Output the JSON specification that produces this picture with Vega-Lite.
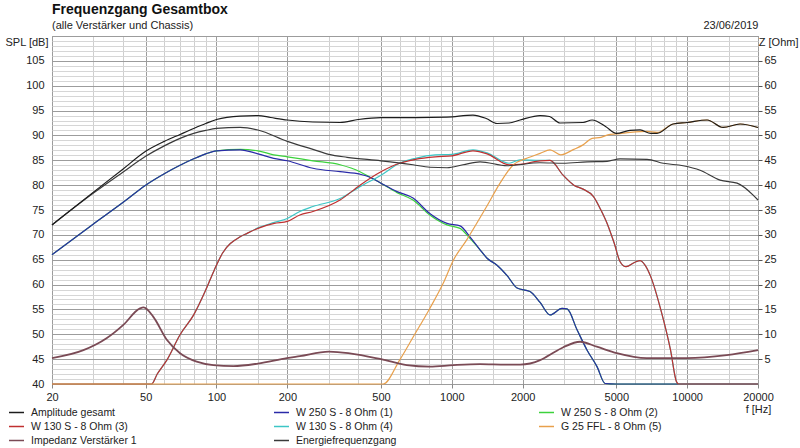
{
  "$schema": "https://vega.github.io/schema/vega-lite/v6.json",
  "width": 706,
  "height": 348,
  "autosize": {"type": "none"},
  "padding": {"left": 52, "top": 36, "right": 42, "bottom": 64},
  "background": "white",
  "title": {
    "text": "Frequenzgang Gesamtbox",
    "subtitle": "(alle Verstärker und Chassis)",
    "anchor": "start",
    "frame": "group",
    "font": "Liberation Sans",
    "fontSize": 14,
    "fontWeight": "bold",
    "color": "#111",
    "subtitleFont": "Liberation Sans",
    "subtitleFontSize": 11,
    "subtitleColor": "#222",
    "subtitlePadding": 3,
    "offset": -12
  },
  "config": {
    "font": "Liberation Sans",
    "view": {"stroke": "#8a8a8a"},
    "axis": {"labelFontSize": 11, "labelColor": "#222", "titleFontSize": 11, "titleFontWeight": "normal", "titleColor": "#222"}
  },
  "datasets": {
    "d": [
      {"s": "W 250 S - 8 Ohm  (2)", "f": 20, "v": 66},
      {"s": "W 250 S - 8 Ohm  (2)", "f": 30, "v": 72.2},
      {"s": "W 250 S - 8 Ohm  (2)", "f": 40, "v": 76.5},
      {"s": "W 250 S - 8 Ohm  (2)", "f": 50, "v": 80},
      {"s": "W 250 S - 8 Ohm  (2)", "f": 60, "v": 82.3},
      {"s": "W 250 S - 8 Ohm  (2)", "f": 70, "v": 84.0},
      {"s": "W 250 S - 8 Ohm  (2)", "f": 80, "v": 85.3},
      {"s": "W 250 S - 8 Ohm  (2)", "f": 90, "v": 86.3},
      {"s": "W 250 S - 8 Ohm  (2)", "f": 100, "v": 86.9},
      {"s": "W 250 S - 8 Ohm  (2)", "f": 126, "v": 87.2},
      {"s": "W 250 S - 8 Ohm  (2)", "f": 150, "v": 86.9},
      {"s": "W 250 S - 8 Ohm  (2)", "f": 175, "v": 86.1},
      {"s": "W 250 S - 8 Ohm  (2)", "f": 200, "v": 85.7},
      {"s": "W 250 S - 8 Ohm  (2)", "f": 257, "v": 84.9},
      {"s": "W 250 S - 8 Ohm  (2)", "f": 335, "v": 84.1},
      {"s": "W 250 S - 8 Ohm  (2)", "f": 407, "v": 82.7},
      {"s": "W 250 S - 8 Ohm  (2)", "f": 449, "v": 81.6},
      {"s": "W 250 S - 8 Ohm  (2)", "f": 500, "v": 80.4},
      {"s": "W 250 S - 8 Ohm  (2)", "f": 585, "v": 78.5},
      {"s": "W 250 S - 8 Ohm  (2)", "f": 684, "v": 77.0},
      {"s": "W 250 S - 8 Ohm  (2)", "f": 806, "v": 74.0},
      {"s": "W 250 S - 8 Ohm  (2)", "f": 954, "v": 72.0},
      {"s": "W 250 S - 8 Ohm  (2)", "f": 1084, "v": 71.3},
      {"s": "W 250 S - 8 Ohm  (2)", "f": 1194, "v": 69.3},
      {"s": "W 250 S - 8 Ohm  (2)", "f": 1318, "v": 67.0},
      {"s": "W 250 S - 8 Ohm  (2)", "f": 1412, "v": 65.3},
      {"s": "W 250 S - 8 Ohm  (2)", "f": 1556, "v": 63.9},
      {"s": "W 250 S - 8 Ohm  (2)", "f": 1718, "v": 61.8},
      {"s": "W 250 S - 8 Ohm  (2)", "f": 1893, "v": 59.3},
      {"s": "W 250 S - 8 Ohm  (2)", "f": 2149, "v": 58.6},
      {"s": "W 250 S - 8 Ohm  (2)", "f": 2372, "v": 56.4},
      {"s": "W 250 S - 8 Ohm  (2)", "f": 2614, "v": 53.9},
      {"s": "W 250 S - 8 Ohm  (2)", "f": 2940, "v": 55.2},
      {"s": "W 250 S - 8 Ohm  (2)", "f": 3088, "v": 55.1},
      {"s": "W 250 S - 8 Ohm  (2)", "f": 3405, "v": 50.9},
      {"s": "W 250 S - 8 Ohm  (2)", "f": 3757, "v": 46.8},
      {"s": "W 250 S - 8 Ohm  (2)", "f": 4140, "v": 43.5},
      {"s": "W 250 S - 8 Ohm  (2)", "f": 4480, "v": 40.1},
      {"s": "W 250 S - 8 Ohm  (2)", "f": 5000, "v": 40},
      {"s": "W 250 S - 8 Ohm  (2)", "f": 20000, "v": 40},

      {"s": "W 250 S - 8 Ohm  (1)", "f": 20, "v": 66},
      {"s": "W 250 S - 8 Ohm  (1)", "f": 30, "v": 72.2},
      {"s": "W 250 S - 8 Ohm  (1)", "f": 40, "v": 76.5},
      {"s": "W 250 S - 8 Ohm  (1)", "f": 50, "v": 80},
      {"s": "W 250 S - 8 Ohm  (1)", "f": 60, "v": 82.3},
      {"s": "W 250 S - 8 Ohm  (1)", "f": 70, "v": 84.0},
      {"s": "W 250 S - 8 Ohm  (1)", "f": 80, "v": 85.3},
      {"s": "W 250 S - 8 Ohm  (1)", "f": 90, "v": 86.3},
      {"s": "W 250 S - 8 Ohm  (1)", "f": 100, "v": 86.9},
      {"s": "W 250 S - 8 Ohm  (1)", "f": 126, "v": 87.1},
      {"s": "W 250 S - 8 Ohm  (1)", "f": 150, "v": 86.3},
      {"s": "W 250 S - 8 Ohm  (1)", "f": 175, "v": 85.4},
      {"s": "W 250 S - 8 Ohm  (1)", "f": 200, "v": 84.9},
      {"s": "W 250 S - 8 Ohm  (1)", "f": 257, "v": 83.4},
      {"s": "W 250 S - 8 Ohm  (1)", "f": 335, "v": 82.7},
      {"s": "W 250 S - 8 Ohm  (1)", "f": 407, "v": 82.2},
      {"s": "W 250 S - 8 Ohm  (1)", "f": 449, "v": 81.6},
      {"s": "W 250 S - 8 Ohm  (1)", "f": 500, "v": 80.4},
      {"s": "W 250 S - 8 Ohm  (1)", "f": 585, "v": 78.7},
      {"s": "W 250 S - 8 Ohm  (1)", "f": 684, "v": 77.4},
      {"s": "W 250 S - 8 Ohm  (1)", "f": 806, "v": 74.3},
      {"s": "W 250 S - 8 Ohm  (1)", "f": 954, "v": 72.3},
      {"s": "W 250 S - 8 Ohm  (1)", "f": 1084, "v": 71.8},
      {"s": "W 250 S - 8 Ohm  (1)", "f": 1194, "v": 69.6},
      {"s": "W 250 S - 8 Ohm  (1)", "f": 1318, "v": 67.0},
      {"s": "W 250 S - 8 Ohm  (1)", "f": 1412, "v": 65.3},
      {"s": "W 250 S - 8 Ohm  (1)", "f": 1556, "v": 63.9},
      {"s": "W 250 S - 8 Ohm  (1)", "f": 1718, "v": 61.8},
      {"s": "W 250 S - 8 Ohm  (1)", "f": 1893, "v": 59.3},
      {"s": "W 250 S - 8 Ohm  (1)", "f": 2149, "v": 58.6},
      {"s": "W 250 S - 8 Ohm  (1)", "f": 2372, "v": 56.4},
      {"s": "W 250 S - 8 Ohm  (1)", "f": 2614, "v": 53.9},
      {"s": "W 250 S - 8 Ohm  (1)", "f": 2940, "v": 55.2},
      {"s": "W 250 S - 8 Ohm  (1)", "f": 3088, "v": 55.1},
      {"s": "W 250 S - 8 Ohm  (1)", "f": 3405, "v": 50.9},
      {"s": "W 250 S - 8 Ohm  (1)", "f": 3757, "v": 46.8},
      {"s": "W 250 S - 8 Ohm  (1)", "f": 4140, "v": 43.5},
      {"s": "W 250 S - 8 Ohm  (1)", "f": 4480, "v": 40.1},
      {"s": "W 250 S - 8 Ohm  (1)", "f": 5000, "v": 40},
      {"s": "W 250 S - 8 Ohm  (1)", "f": 20000, "v": 40},

      {"s": "W 130 S - 8 Ohm (4)", "f": 20, "v": 40},
      {"s": "W 130 S - 8 Ohm (4)", "f": 53, "v": 40},
      {"s": "W 130 S - 8 Ohm (4)", "f": 56, "v": 42},
      {"s": "W 130 S - 8 Ohm (4)", "f": 61.5, "v": 44.8},
      {"s": "W 130 S - 8 Ohm (4)", "f": 70, "v": 49.9},
      {"s": "W 130 S - 8 Ohm (4)", "f": 80, "v": 53.9},
      {"s": "W 130 S - 8 Ohm (4)", "f": 90, "v": 58.9},
      {"s": "W 130 S - 8 Ohm (4)", "f": 98, "v": 63},
      {"s": "W 130 S - 8 Ohm (4)", "f": 106, "v": 66.3},
      {"s": "W 130 S - 8 Ohm (4)", "f": 126, "v": 69.6},
      {"s": "W 130 S - 8 Ohm (4)", "f": 135, "v": 70.3},
      {"s": "W 130 S - 8 Ohm (4)", "f": 150, "v": 71.4},
      {"s": "W 130 S - 8 Ohm (4)", "f": 176, "v": 72.5},
      {"s": "W 130 S - 8 Ohm (4)", "f": 200, "v": 73.3},
      {"s": "W 130 S - 8 Ohm (4)", "f": 226, "v": 74.7},
      {"s": "W 130 S - 8 Ohm (4)", "f": 257, "v": 75.7},
      {"s": "W 130 S - 8 Ohm (4)", "f": 335, "v": 77.3},
      {"s": "W 130 S - 8 Ohm (4)", "f": 407, "v": 79.7},
      {"s": "W 130 S - 8 Ohm (4)", "f": 500, "v": 82.0},
      {"s": "W 130 S - 8 Ohm (4)", "f": 600, "v": 84.4},
      {"s": "W 130 S - 8 Ohm (4)", "f": 700, "v": 85.4},
      {"s": "W 130 S - 8 Ohm (4)", "f": 850, "v": 86.1},
      {"s": "W 130 S - 8 Ohm (4)", "f": 1000, "v": 86.2},
      {"s": "W 130 S - 8 Ohm (4)", "f": 1230, "v": 87.1},
      {"s": "W 130 S - 8 Ohm (4)", "f": 1412, "v": 86.5},
      {"s": "W 130 S - 8 Ohm (4)", "f": 1750, "v": 84.4},
      {"s": "W 130 S - 8 Ohm (4)", "f": 1950, "v": 85.1},
      {"s": "W 130 S - 8 Ohm (4)", "f": 2372, "v": 85.0},
      {"s": "W 130 S - 8 Ohm (4)", "f": 2614, "v": 85.0},
      {"s": "W 130 S - 8 Ohm (4)", "f": 2970, "v": 82.0},
      {"s": "W 130 S - 8 Ohm (4)", "f": 3300, "v": 80.0},
      {"s": "W 130 S - 8 Ohm (4)", "f": 3612, "v": 79.2},
      {"s": "W 130 S - 8 Ohm (4)", "f": 4000, "v": 77.7},
      {"s": "W 130 S - 8 Ohm (4)", "f": 4300, "v": 75.0},
      {"s": "W 130 S - 8 Ohm (4)", "f": 4570, "v": 72.3},
      {"s": "W 130 S - 8 Ohm (4)", "f": 4900, "v": 68.3},
      {"s": "W 130 S - 8 Ohm (4)", "f": 5188, "v": 64.6},
      {"s": "W 130 S - 8 Ohm (4)", "f": 5500, "v": 63.6},
      {"s": "W 130 S - 8 Ohm (4)", "f": 6000, "v": 64.5},
      {"s": "W 130 S - 8 Ohm (4)", "f": 6310, "v": 64.8},
      {"s": "W 130 S - 8 Ohm (4)", "f": 6620, "v": 63.9},
      {"s": "W 130 S - 8 Ohm (4)", "f": 7000, "v": 61.6},
      {"s": "W 130 S - 8 Ohm (4)", "f": 7730, "v": 54.9},
      {"s": "W 130 S - 8 Ohm (4)", "f": 8500, "v": 46.8},
      {"s": "W 130 S - 8 Ohm (4)", "f": 9000, "v": 40.5},
      {"s": "W 130 S - 8 Ohm (4)", "f": 9200, "v": 40},
      {"s": "W 130 S - 8 Ohm (4)", "f": 20000, "v": 40},

      {"s": "W 130 S - 8 Ohm (3)", "f": 20, "v": 40},
      {"s": "W 130 S - 8 Ohm (3)", "f": 53, "v": 40},
      {"s": "W 130 S - 8 Ohm (3)", "f": 56, "v": 42},
      {"s": "W 130 S - 8 Ohm (3)", "f": 61.5, "v": 44.8},
      {"s": "W 130 S - 8 Ohm (3)", "f": 70, "v": 49.9},
      {"s": "W 130 S - 8 Ohm (3)", "f": 80, "v": 53.9},
      {"s": "W 130 S - 8 Ohm (3)", "f": 90, "v": 58.9},
      {"s": "W 130 S - 8 Ohm (3)", "f": 98, "v": 63},
      {"s": "W 130 S - 8 Ohm (3)", "f": 106, "v": 66.3},
      {"s": "W 130 S - 8 Ohm (3)", "f": 126, "v": 69.6},
      {"s": "W 130 S - 8 Ohm (3)", "f": 135, "v": 70.3},
      {"s": "W 130 S - 8 Ohm (3)", "f": 150, "v": 71.3},
      {"s": "W 130 S - 8 Ohm (3)", "f": 176, "v": 72.3},
      {"s": "W 130 S - 8 Ohm (3)", "f": 200, "v": 72.7},
      {"s": "W 130 S - 8 Ohm (3)", "f": 226, "v": 74.0},
      {"s": "W 130 S - 8 Ohm (3)", "f": 257, "v": 74.7},
      {"s": "W 130 S - 8 Ohm (3)", "f": 335, "v": 77.0},
      {"s": "W 130 S - 8 Ohm (3)", "f": 407, "v": 80.0},
      {"s": "W 130 S - 8 Ohm (3)", "f": 500, "v": 82.7},
      {"s": "W 130 S - 8 Ohm (3)", "f": 600, "v": 84.4},
      {"s": "W 130 S - 8 Ohm (3)", "f": 700, "v": 85.2},
      {"s": "W 130 S - 8 Ohm (3)", "f": 850, "v": 85.7},
      {"s": "W 130 S - 8 Ohm (3)", "f": 1000, "v": 85.9},
      {"s": "W 130 S - 8 Ohm (3)", "f": 1230, "v": 86.9},
      {"s": "W 130 S - 8 Ohm (3)", "f": 1412, "v": 86.3},
      {"s": "W 130 S - 8 Ohm (3)", "f": 1750, "v": 84.1},
      {"s": "W 130 S - 8 Ohm (3)", "f": 1950, "v": 84.2},
      {"s": "W 130 S - 8 Ohm (3)", "f": 2372, "v": 84.9},
      {"s": "W 130 S - 8 Ohm (3)", "f": 2614, "v": 85.0},
      {"s": "W 130 S - 8 Ohm (3)", "f": 2970, "v": 82.0},
      {"s": "W 130 S - 8 Ohm (3)", "f": 3300, "v": 80.0},
      {"s": "W 130 S - 8 Ohm (3)", "f": 3612, "v": 79.2},
      {"s": "W 130 S - 8 Ohm (3)", "f": 4000, "v": 77.7},
      {"s": "W 130 S - 8 Ohm (3)", "f": 4300, "v": 75.0},
      {"s": "W 130 S - 8 Ohm (3)", "f": 4570, "v": 72.3},
      {"s": "W 130 S - 8 Ohm (3)", "f": 4900, "v": 68.3},
      {"s": "W 130 S - 8 Ohm (3)", "f": 5188, "v": 64.6},
      {"s": "W 130 S - 8 Ohm (3)", "f": 5500, "v": 63.6},
      {"s": "W 130 S - 8 Ohm (3)", "f": 6000, "v": 64.5},
      {"s": "W 130 S - 8 Ohm (3)", "f": 6310, "v": 64.8},
      {"s": "W 130 S - 8 Ohm (3)", "f": 6620, "v": 63.9},
      {"s": "W 130 S - 8 Ohm (3)", "f": 7000, "v": 61.6},
      {"s": "W 130 S - 8 Ohm (3)", "f": 7730, "v": 54.9},
      {"s": "W 130 S - 8 Ohm (3)", "f": 8500, "v": 46.8},
      {"s": "W 130 S - 8 Ohm (3)", "f": 9000, "v": 40.5},
      {"s": "W 130 S - 8 Ohm (3)", "f": 9200, "v": 40},
      {"s": "W 130 S - 8 Ohm (3)", "f": 20000, "v": 40},

      {"s": "G 25 FFL - 8 Ohm (5)", "f": 20, "v": 40},
      {"s": "G 25 FFL - 8 Ohm (5)", "f": 511, "v": 40},
      {"s": "G 25 FFL - 8 Ohm (5)", "f": 600, "v": 44.8},
      {"s": "G 25 FFL - 8 Ohm (5)", "f": 686, "v": 49.5},
      {"s": "G 25 FFL - 8 Ohm (5)", "f": 806, "v": 55.2},
      {"s": "G 25 FFL - 8 Ohm (5)", "f": 920, "v": 60.3},
      {"s": "G 25 FFL - 8 Ohm (5)", "f": 1015, "v": 64.9},
      {"s": "G 25 FFL - 8 Ohm (5)", "f": 1157, "v": 69.0},
      {"s": "G 25 FFL - 8 Ohm (5)", "f": 1406, "v": 75.7},
      {"s": "G 25 FFL - 8 Ohm (5)", "f": 1603, "v": 80.4},
      {"s": "G 25 FFL - 8 Ohm (5)", "f": 1826, "v": 84.1},
      {"s": "G 25 FFL - 8 Ohm (5)", "f": 2081, "v": 85.4},
      {"s": "G 25 FFL - 8 Ohm (5)", "f": 2372, "v": 86.4},
      {"s": "G 25 FFL - 8 Ohm (5)", "f": 2614, "v": 87.1},
      {"s": "G 25 FFL - 8 Ohm (5)", "f": 2900, "v": 86.1},
      {"s": "G 25 FFL - 8 Ohm (5)", "f": 3300, "v": 87.2},
      {"s": "G 25 FFL - 8 Ohm (5)", "f": 3612, "v": 88.1},
      {"s": "G 25 FFL - 8 Ohm (5)", "f": 3946, "v": 89.4},
      {"s": "G 25 FFL - 8 Ohm (5)", "f": 4300, "v": 89.6},
      {"s": "G 25 FFL - 8 Ohm (5)", "f": 4600, "v": 90.1},
      {"s": "G 25 FFL - 8 Ohm (5)", "f": 5000, "v": 90.3},
      {"s": "G 25 FFL - 8 Ohm (5)", "f": 5716, "v": 90.6},
      {"s": "G 25 FFL - 8 Ohm (5)", "f": 6760, "v": 90.8},
      {"s": "G 25 FFL - 8 Ohm (5)", "f": 7450, "v": 90.6},
      {"s": "G 25 FFL - 8 Ohm (5)", "f": 8710, "v": 92.3},
      {"s": "G 25 FFL - 8 Ohm (5)", "f": 10000, "v": 92.6},
      {"s": "G 25 FFL - 8 Ohm (5)", "f": 12160, "v": 93.1},
      {"s": "G 25 FFL - 8 Ohm (5)", "f": 14220, "v": 91.6},
      {"s": "G 25 FFL - 8 Ohm (5)", "f": 16780, "v": 92.3},
      {"s": "G 25 FFL - 8 Ohm (5)", "f": 20000, "v": 91.6},

      {"s": "Energiefrequenzgang", "f": 20, "v": 72},
      {"s": "Energiefrequenzgang", "f": 30, "v": 78.4},
      {"s": "Energiefrequenzgang", "f": 40, "v": 82.6},
      {"s": "Energiefrequenzgang", "f": 50, "v": 85.8},
      {"s": "Energiefrequenzgang", "f": 60, "v": 87.9},
      {"s": "Energiefrequenzgang", "f": 70, "v": 89.4},
      {"s": "Energiefrequenzgang", "f": 80, "v": 90.4},
      {"s": "Energiefrequenzgang", "f": 90, "v": 91.0},
      {"s": "Energiefrequenzgang", "f": 100, "v": 91.4},
      {"s": "Energiefrequenzgang", "f": 126, "v": 91.6},
      {"s": "Energiefrequenzgang", "f": 150, "v": 91.1},
      {"s": "Energiefrequenzgang", "f": 200, "v": 88.8},
      {"s": "Energiefrequenzgang", "f": 257, "v": 87.2},
      {"s": "Energiefrequenzgang", "f": 300, "v": 86.2},
      {"s": "Energiefrequenzgang", "f": 359, "v": 85.6},
      {"s": "Energiefrequenzgang", "f": 500, "v": 84.9},
      {"s": "Energiefrequenzgang", "f": 684, "v": 84.1},
      {"s": "Energiefrequenzgang", "f": 806, "v": 83.6},
      {"s": "Energiefrequenzgang", "f": 954, "v": 83.5},
      {"s": "Energiefrequenzgang", "f": 1116, "v": 84.1},
      {"s": "Energiefrequenzgang", "f": 1318, "v": 84.7},
      {"s": "Energiefrequenzgang", "f": 1718, "v": 83.9},
      {"s": "Energiefrequenzgang", "f": 2372, "v": 84.5},
      {"s": "Energiefrequenzgang", "f": 2970, "v": 84.4},
      {"s": "Energiefrequenzgang", "f": 3757, "v": 84.7},
      {"s": "Energiefrequenzgang", "f": 4570, "v": 84.8},
      {"s": "Energiefrequenzgang", "f": 5188, "v": 85.3},
      {"s": "Energiefrequenzgang", "f": 6760, "v": 85.2},
      {"s": "Energiefrequenzgang", "f": 7910, "v": 84.4},
      {"s": "Energiefrequenzgang", "f": 9610, "v": 83.9},
      {"s": "Energiefrequenzgang", "f": 11350, "v": 83.0},
      {"s": "Energiefrequenzgang", "f": 13800, "v": 81.0},
      {"s": "Energiefrequenzgang", "f": 16300, "v": 80.4},
      {"s": "Energiefrequenzgang", "f": 19070, "v": 78.0},
      {"s": "Energiefrequenzgang", "f": 20000, "v": 77.0},

      {"s": "Amplitude gesamt", "f": 20, "v": 72},
      {"s": "Amplitude gesamt", "f": 30, "v": 78.6},
      {"s": "Amplitude gesamt", "f": 40, "v": 83.2},
      {"s": "Amplitude gesamt", "f": 50, "v": 86.8},
      {"s": "Amplitude gesamt", "f": 60, "v": 88.8},
      {"s": "Amplitude gesamt", "f": 70, "v": 90.2},
      {"s": "Amplitude gesamt", "f": 80, "v": 91.4},
      {"s": "Amplitude gesamt", "f": 90, "v": 92.4},
      {"s": "Amplitude gesamt", "f": 100, "v": 93.2},
      {"s": "Amplitude gesamt", "f": 126, "v": 93.9},
      {"s": "Amplitude gesamt", "f": 150, "v": 94.0},
      {"s": "Amplitude gesamt", "f": 170, "v": 93.6},
      {"s": "Amplitude gesamt", "f": 200, "v": 93.1},
      {"s": "Amplitude gesamt", "f": 257, "v": 92.7},
      {"s": "Amplitude gesamt", "f": 335, "v": 92.6},
      {"s": "Amplitude gesamt", "f": 400, "v": 93.2},
      {"s": "Amplitude gesamt", "f": 500, "v": 93.6},
      {"s": "Amplitude gesamt", "f": 700, "v": 93.6},
      {"s": "Amplitude gesamt", "f": 954, "v": 93.7},
      {"s": "Amplitude gesamt", "f": 1230, "v": 94.1},
      {"s": "Amplitude gesamt", "f": 1400, "v": 93.4},
      {"s": "Amplitude gesamt", "f": 1556, "v": 92.4},
      {"s": "Amplitude gesamt", "f": 1750, "v": 92.5},
      {"s": "Amplitude gesamt", "f": 1950, "v": 93.1},
      {"s": "Amplitude gesamt", "f": 2372, "v": 94.0},
      {"s": "Amplitude gesamt", "f": 2600, "v": 93.8},
      {"s": "Amplitude gesamt", "f": 2884, "v": 92.5},
      {"s": "Amplitude gesamt", "f": 3612, "v": 92.6},
      {"s": "Amplitude gesamt", "f": 3946, "v": 93.1},
      {"s": "Amplitude gesamt", "f": 4500, "v": 91.8},
      {"s": "Amplitude gesamt", "f": 5000, "v": 90.4},
      {"s": "Amplitude gesamt", "f": 5716, "v": 91.0},
      {"s": "Amplitude gesamt", "f": 6310, "v": 91.1},
      {"s": "Amplitude gesamt", "f": 7000, "v": 90.4},
      {"s": "Amplitude gesamt", "f": 7450, "v": 90.4},
      {"s": "Amplitude gesamt", "f": 8710, "v": 92.3},
      {"s": "Amplitude gesamt", "f": 10000, "v": 92.6},
      {"s": "Amplitude gesamt", "f": 12160, "v": 93.1},
      {"s": "Amplitude gesamt", "f": 14220, "v": 91.6},
      {"s": "Amplitude gesamt", "f": 16780, "v": 92.3},
      {"s": "Amplitude gesamt", "f": 20000, "v": 91.6},

      {"s": "Impedanz Verstärker 1", "f": 20, "v": 5.2},
      {"s": "Impedanz Verstärker 1", "f": 27.2, "v": 6.8},
      {"s": "Impedanz Verstärker 1", "f": 34.1, "v": 9.2},
      {"s": "Impedanz Verstärker 1", "f": 40.2, "v": 11.9},
      {"s": "Impedanz Verstärker 1", "f": 47.3, "v": 15.2},
      {"s": "Impedanz Verstärker 1", "f": 49, "v": 15.4},
      {"s": "Impedanz Verstärker 1", "f": 53.9, "v": 13.5},
      {"s": "Impedanz Verstärker 1", "f": 61.5, "v": 8.9},
      {"s": "Impedanz Verstärker 1", "f": 70, "v": 6.2},
      {"s": "Impedanz Verstärker 1", "f": 82.4, "v": 4.5},
      {"s": "Impedanz Verstärker 1", "f": 97, "v": 3.8},
      {"s": "Impedanz Verstärker 1", "f": 118, "v": 3.6},
      {"s": "Impedanz Verstärker 1", "f": 150, "v": 4.1},
      {"s": "Impedanz Verstärker 1", "f": 199, "v": 5.2},
      {"s": "Impedanz Verstärker 1", "f": 226, "v": 5.6},
      {"s": "Impedanz Verstärker 1", "f": 300, "v": 6.5},
      {"s": "Impedanz Verstärker 1", "f": 500, "v": 5.0},
      {"s": "Impedanz Verstärker 1", "f": 644, "v": 3.8},
      {"s": "Impedanz Verstärker 1", "f": 806, "v": 3.5},
      {"s": "Impedanz Verstärker 1", "f": 1015, "v": 3.8},
      {"s": "Impedanz Verstärker 1", "f": 1318, "v": 4.0},
      {"s": "Impedanz Verstärker 1", "f": 1700, "v": 3.9},
      {"s": "Impedanz Verstärker 1", "f": 1950, "v": 3.9},
      {"s": "Impedanz Verstärker 1", "f": 2372, "v": 4.8},
      {"s": "Impedanz Verstärker 1", "f": 2530, "v": 5.5},
      {"s": "Impedanz Verstärker 1", "f": 2978, "v": 7.4},
      {"s": "Impedanz Verstärker 1", "f": 3508, "v": 8.5},
      {"s": "Impedanz Verstärker 1", "f": 4130, "v": 7.5},
      {"s": "Impedanz Verstärker 1", "f": 5024, "v": 6.2},
      {"s": "Impedanz Verstärker 1", "f": 6730, "v": 5.2},
      {"s": "Impedanz Verstärker 1", "f": 9956, "v": 5.2},
      {"s": "Impedanz Verstärker 1", "f": 14730, "v": 5.8},
      {"s": "Impedanz Verstärker 1", "f": 20000, "v": 6.8}
    ]
  },
  "data": {"name": "d"},
  "layer": [
    {
      "transform": [{"filter": "datum.s != 'Impedanz Verstärker 1'"}],
      "mark": {"type": "line", "strokeWidth": 1.2, "interpolate": "monotone"},
      "encoding": {
        "x": {
          "field": "f",
          "type": "quantitative",
          "scale": {"type": "log", "domain": [20, 20000], "nice": false},
          "axis": {
            "values": [20, 30, 40, 50, 60, 70, 80, 90, 100, 150, 200, 300, 400, 500, 600, 700, 800, 900, 1000, 1500, 2000, 3000, 4000, 5000, 6000, 7000, 8000, 9000, 10000, 15000, 20000],
            "labelExpr": "indexof([20,50,100,200,500,1000,2000,5000,10000,20000], datum.value) >= 0 ? '' + datum.value : ''",
            "labelOverlap": false,
            "labelFlush": false,
            "labelPadding": 3,
            "grid": true,
            "gridColor": {"condition": {"test": "indexof([20,50,100,200,500,1000,2000,5000,10000,20000], datum.value) >= 0", "value": "#9c9c9c"}, "value": "#cfcfcf"},
            "domain": false,
            "tickSize": 4,
            "tickColor": "#888",
            "tickOpacity": {"condition": {"test": "indexof([20,50,100,200,500,1000,2000,5000,10000,20000], datum.value) >= 0", "value": 1}, "value": 0},
            "title": "f [Hz]",
            "titleX": 706,
            "titleY": 25,
            "titleAlign": "center",
            "titleBaseline": "middle"
          }
        },
        "y": {
          "field": "v",
          "type": "quantitative",
          "scale": {"domain": [40, 110], "nice": false, "zero": false},
          "axis": {
            "orient": "left",
            "values": [40, 41, 42, 43, 44, 45, 46, 47, 48, 49, 50, 51, 52, 53, 54, 55, 56, 57, 58, 59, 60, 61, 62, 63, 64, 65, 66, 67, 68, 69, 70, 71, 72, 73, 74, 75, 76, 77, 78, 79, 80, 81, 82, 83, 84, 85, 86, 87, 88, 89, 90, 91, 92, 93, 94, 95, 96, 97, 98, 99, 100, 101, 102, 103, 104, 105, 106, 107, 108, 109, 110],
            "labelExpr": "datum.value % 5 == 0 && datum.value < 110 ? datum.label : ''",
            "labelOverlap": false,
            "labelFlush": false,
            "labelPadding": 8,
            "grid": true,
            "gridColor": {"condition": {"test": "datum.value % 5 == 0", "value": "#9c9c9c"}, "value": "#d6d6d6"},
            "ticks": false,
            "domain": false,
            "title": "SPL [dB]",
            "titleAngle": 0,
            "titleX": -4,
            "titleY": 6,
            "titleAlign": "right",
            "titleBaseline": "middle"
          }
        },
        "color": {
          "field": "s",
          "type": "nominal",
          "scale": {
            "domain": ["Amplitude gesamt", "W 250 S - 8 Ohm  (1)", "W 250 S - 8 Ohm  (2)", "W 130 S - 8 Ohm (3)", "W 130 S - 8 Ohm (4)", "G 25 FFL - 8 Ohm (5)", "Impedanz Verstärker 1", "Energiefrequenzgang"],
            "range": ["#1c1c1c", "#2a2aa8", "#3cd23c", "#c03030", "#3cc6c6", "#e8a04c", "#7a4a55", "#3a3a3a"]
          },
          "legend": {
            "title": null,
            "orient": "none",
            "legendX": -44,
            "legendY": 368,
            "direction": "horizontal",
            "columns": 3,
            "gridAlign": "all",
            "columnPadding": 134,
            "rowPadding": -2,
            "symbolType": "stroke",
            "symbolSize": 225,
            "symbolStrokeWidth": 1.5,
            "labelFontSize": 10.5,
            "labelOffset": 6,
            "labelColor": "#222"
          }
        }
      }
    },
    {
      "transform": [{"filter": "datum.s == 'Impedanz Verstärker 1'"}],
      "mark": {"type": "line", "strokeWidth": 1.8, "interpolate": "monotone"},
      "encoding": {
        "x": {
          "field": "f",
          "type": "quantitative",
          "scale": {"type": "log", "domain": [20, 20000], "nice": false},
          "axis": {
            "orient": "top",
            "labels": false,
            "ticks": false,
            "domain": false,
            "grid": false,
            "title": "23/06/2019",
            "titleX": 706,
            "titleY": -11,
            "titleAlign": "right",
            "titleBaseline": "middle"
          }
        },
        "y": {
          "field": "v",
          "type": "quantitative",
          "scale": {"domain": [0, 70], "nice": false},
          "axis": {
            "orient": "right",
            "values": [5, 10, 15, 20, 25, 30, 35, 40, 45, 50, 55, 60, 65],
            "grid": false,
            "domain": false,
            "tickSize": 4,
            "tickColor": "#555",
            "labelPadding": 2,
            "title": "Z [Ohm]",
            "titleAngle": 0,
            "titleX": 40,
            "titleY": 6,
            "titleAlign": "right",
            "titleBaseline": "middle"
          }
        },
        "color": {"field": "s", "type": "nominal"}
      }
    }
  ],
  "resolve": {"scale": {"y": "independent"}, "axis": {"x": "independent"}}
}
